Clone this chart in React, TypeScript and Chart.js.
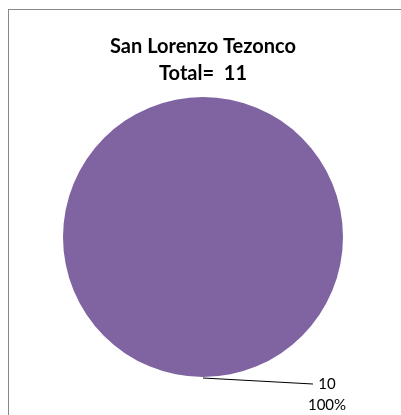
import React, { useEffect, useRef } from "react";
import { Chart, registerables } from "chart.js";

Chart.register(...registerables);

const categories: string[] = ["San Lorenzo Tezonco"];
const values: number[] = [10];
const percentLabels: string[] = ["100%"];
const titleLines: string[] = ["San Lorenzo Tezonco", "Total=  11"];
const sliceColors: string[] = ["#8064A2"];

const labelPlugin = {
  id: "leaderLabels",
  afterDatasetsDraw(chart: any) {
    const ctx = chart.ctx;
    const meta = chart.getDatasetMeta(0);
    meta.data.forEach((arc: any, i: number) => {
      const { x, y, outerRadius } = arc.getProps(["x", "y", "outerRadius"], true);
      const sx = x;
      const sy = y + outerRadius + 1;
      const ex = sx + 110;
      const ey = sy + 6;
      ctx.save();
      ctx.strokeStyle = "#000";
      ctx.lineWidth = 1.2;
      ctx.beginPath();
      ctx.moveTo(sx, sy);
      ctx.lineTo(ex, ey);
      ctx.stroke();
      ctx.fillStyle = "#000";
      ctx.font = "15px Lato, 'Liberation Sans', sans-serif";
      ctx.textAlign = "center";
      ctx.textBaseline = "middle";
      ctx.fillText(String(values[i]), ex + 14, ey);
      ctx.fillText(percentLabels[i], ex + 14, ey + 21);
      ctx.restore();
    });
  },
};

export default function App() {
  const ref = useRef<HTMLCanvasElement>(null);
  useEffect(() => {
    if (!ref.current) return;
    const chart = new Chart(ref.current, {
      type: "pie",
      data: {
        labels: categories,
        datasets: [
          {
            data: values,
            backgroundColor: sliceColors,
            borderWidth: 0,
            hoverOffset: 0,
          },
        ],
      },
      options: {
        responsive: false,
        animation: false,
        radius: 140,
        layout: { padding: { left: 5, right: 0, top: 0, bottom: 31 } },
        plugins: {
          legend: { display: false },
          tooltip: { enabled: false },
          title: {
            display: true,
            text: titleLines,
            color: "#000",
            font: { family: "Lato, 'Liberation Sans', sans-serif", size: 20, weight: "bold", lineHeight: 1.35 },
            padding: { top: 33, bottom: 3 },
          },
        },
      } as any,
      plugins: [labelPlugin],
    });
    return () => chart.destroy();
  }, []);
  return (
    <div style={{ position: "absolute", left: 0, top: 0, width: 401, height: 415, background: "#fff" }}>
      <div
        style={{
          position: "absolute",
          left: 8,
          top: 9,
          right: 0,
          bottom: 0,
          borderLeft: "1.5px solid #888",
          borderTop: "1.5px solid #888",
        }}
      />
      <canvas ref={ref} width={401} height={415} style={{ position: "absolute", left: 0, top: 0 }} />
    </div>
  );
}
